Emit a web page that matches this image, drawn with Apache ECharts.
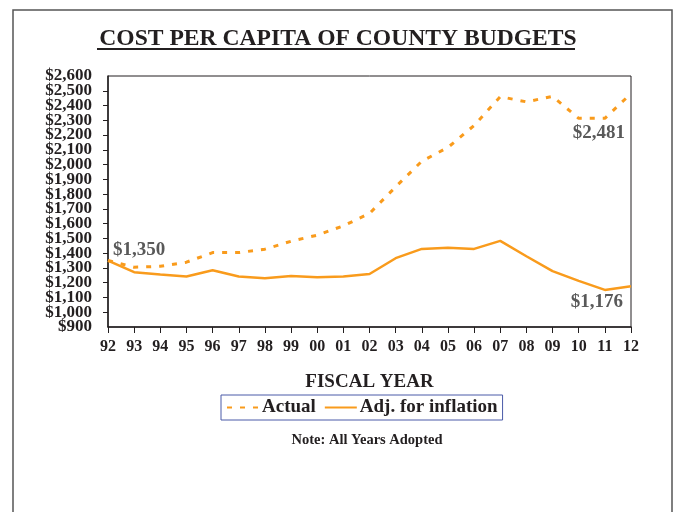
<!DOCTYPE html>
<html>
<head>
<meta charset="utf-8">
<script src="https://cdn.jsdelivr.net/npm/echarts@6/dist/echarts.min.js"></script>
<style>
  html, body { margin: 0; padding: 0; background: #fff; }
  #main { width: 678px; height: 512px; }
</style>
</head>
<body>
<div id="main"></div>
<script>
// fiscal years on the x axis
var years = ['92', '93', '94', '95', '96', '97', '98', '99', '00', '01', '02',
  '03', '04', '05', '06', '07', '08', '09', '10', '11', '12'];
// cost per capita, actual dollars
var actual = [1350, 1305, 1311, 1339, 1404, 1404, 1427, 1481, 1522, 1585, 1669,
  1849, 2023, 2116, 2265, 2460, 2425, 2462, 2313, 2313, 2481];
// cost per capita, adjusted for inflation
var adjusted = [1350, 1271, 1255, 1242, 1284, 1242, 1230, 1246, 1237, 1242, 1259,
  1366, 1429, 1436, 1429, 1483, 1379, 1278, 1212, 1151, 1176];
// y axis range
var yMin = 900, yMax = 2600, yStep = 100;

var FONT = '"Liberation Serif", "Times New Roman", serif';
var ORANGE = '#F99B1C';
var NOTE_GREY = '#595959';
var INK = '#231f20';

function money(v) {
  return '$' + String(v).replace(/\B(?=(\d{3})+(?!\d))/g, ',');
}

// annotation labels on first / last points
var noteLabel = {
  show: true,
  color: NOTE_GREY,
  fontFamily: FONT,
  fontWeight: 'bold',
  fontSize: 19,
  formatter: function (p) { return money(p.value); }
};

var actualData = actual.map(function (v, i) {
  if (i === actual.length - 1) {
    return { value: v, label: Object.assign({}, noteLabel, { position: 'left', distance: 6, offset: [0, 40] }) };
  }
  return v;
});
var adjustedData = adjusted.map(function (v, i) {
  if (i === 0) {
    return { value: v, label: Object.assign({}, noteLabel, { position: 'right', distance: 5, offset: [0, -10] }) };
  }
  if (i === adjusted.length - 1) {
    return { value: v, label: Object.assign({}, noteLabel, { position: 'left', distance: 8, offset: [0, 16] }) };
  }
  return v;
});

var yLabel = {
  fontFamily: FONT, fontWeight: 'bold', fontSize: 17, color: INK, margin: 16,
  formatter: money
};

var chart = echarts.init(document.getElementById('main'));

var option = {
  backgroundColor: '#fff',
  animation: false,
  textStyle: { fontFamily: FONT },
  title: [{
    text: 'COST PER CAPITA OF COUNTY BUDGETS',
    left: 333,
    textAlign: 'center',
    top: 22,
    textStyle: { fontFamily: FONT, fontWeight: 'bold', fontSize: 23.6, color: INK }
  }, {
    text: 'Note: All Years Adopted',
    left: 362,
    textAlign: 'center',
    top: 428,
    textStyle: { fontFamily: FONT, fontWeight: 'bold', fontSize: 14.5, color: INK }
  }],
  graphic: [{
    // outer frame
    type: 'rect',
    shape: { x: 13, y: 10, width: 659, height: 530 },
    style: { fill: 'none', stroke: '#555', lineWidth: 1.5 },
    silent: true
  }, {
    // title underline
    type: 'line',
    shape: { x1: 97, y1: 49, x2: 575, y2: 49 },
    style: { stroke: INK, lineWidth: 2 },
    silent: true
  }],
  legend: {
    left: 221,
    top: 395,
    padding: [3, 5, 3, 5],
    borderColor: '#4a5aa8',
    borderWidth: 1,
    itemWidth: 32,
    itemHeight: 14,
    itemGap: 8,
    itemStyle: { opacity: 0 },
    textStyle: { fontFamily: FONT, fontWeight: 'bold', fontSize: 19, color: INK, padding: [0, 0, 0, -2] },
    data: ['Actual', 'Adj. for inflation']
  },
  grid: {
    left: 108,
    right: 47,
    top: 76,
    bottom: 185,
    show: true,
    borderColor: INK,
    borderWidth: 1
  },
  xAxis: {
    type: 'category',
    data: years,
    boundaryGap: false,
    name: 'FISCAL YEAR',
    nameLocation: 'middle',
    nameGap: 46,
    nameTextStyle: { fontFamily: FONT, fontWeight: 'bold', fontSize: 19, color: INK },
    axisLine: { lineStyle: { color: INK, width: 1.5 } },
    axisTick: { show: true, length: 6, alignWithLabel: true, lineStyle: { color: INK } },
    axisLabel: { fontFamily: FONT, fontWeight: 'bold', fontSize: 16, color: INK, margin: 12, interval: 0 },
    splitLine: { show: false }
  },
  yAxis: [{
    type: 'value',
    min: yMin,
    max: yMax,
    interval: yStep,
    axisLine: { show: true, lineStyle: { color: INK, width: 1.5 } },
    axisTick: { show: true, length: 5, lineStyle: { color: INK } },
    axisLabel: Object.assign({ showMinLabel: false, showMaxLabel: false }, yLabel),
    splitLine: { show: false }
  }, {
    // end labels ($900 / $2,600) on an overlaid axis so they are not dropped as overlapping
    type: 'value',
    position: 'left',
    min: yMin,
    max: yMax,
    interval: yMax - yMin,
    axisLine: { show: false },
    axisTick: { show: false },
    axisLabel: Object.assign({ showMinLabel: true, showMaxLabel: true }, yLabel),
    splitLine: { show: false }
  }],
  series: [{
    name: 'Actual',
    type: 'line',
    data: actualData,
    symbol: 'circle',
    symbolSize: 0,
    showAllSymbol: true,
    color: ORANGE,
    lineStyle: { color: ORANGE, width: 3, type: [5, 8] },
    z: 3
  }, {
    name: 'Adj. for inflation',
    type: 'line',
    data: adjustedData,
    symbol: 'circle',
    symbolSize: 0,
    showAllSymbol: true,
    color: ORANGE,
    lineStyle: { color: ORANGE, width: 2.5 },
    z: 3
  }]
};

chart.setOption(option);
</script>
</body>
</html>
